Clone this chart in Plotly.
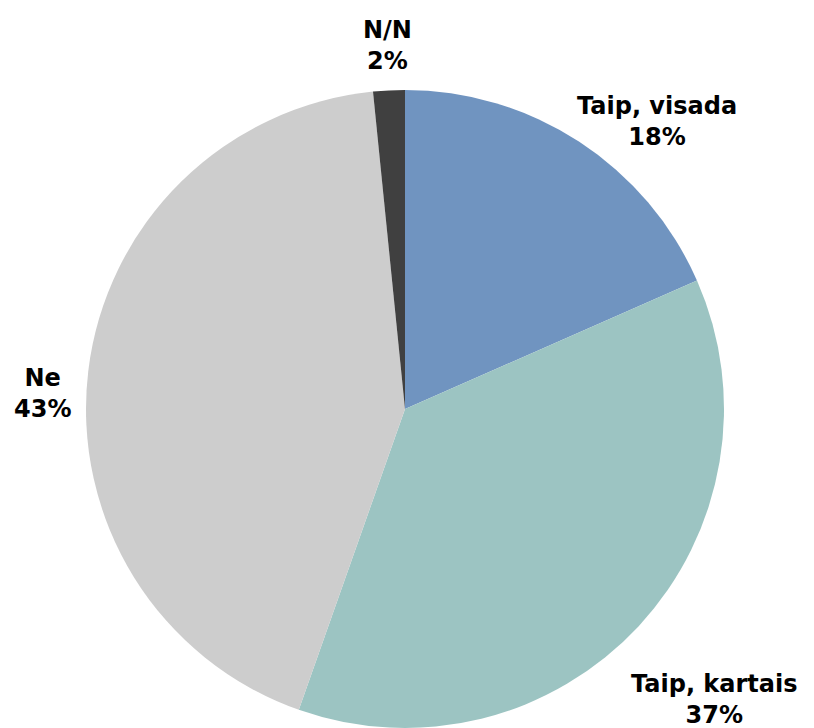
import plotly.graph_objects as go

labels = ['Taip, visada', 'Taip, kartais', 'Ne', 'N/N']
values = [18.4, 37.0, 43.0, 1.6]
colors = ['#7094c0', '#9cc4c2', '#cdcdcd', '#404040']

# label spots around the pie (paper coords)
lab_x = [0.894, 0.983, -0.067, 0.473]
lab_y = [0.950, 0.044, 0.525, 1.070]

fig = go.Figure(go.Pie(
    labels=labels,
    values=values,
    sort=False,
    direction='clockwise',
    rotation=0,
    marker=dict(colors=colors, line=dict(width=0)),
    textinfo='none',
    hoverinfo='label+percent',
    showlegend=False,
))

total = sum(values)
for lab, v, x, y in zip(labels, values, lab_x, lab_y):
    fig.add_annotation(
        x=x, y=y, xref='paper', yref='paper',
        xanchor='center', yanchor='middle',
        text=f'<b>{lab}<br>{round(v / total * 100)}%</b>',
        showarrow=False, align='center',
        font=dict(family='DejaVu Sans', size=24, color='black'),
    )

# page body adds 8px, so margins are shifted back by 8
fig.update_layout(
    width=814, height=728,
    margin=dict(l=77, r=97, t=82, b=8),
    paper_bgcolor='white',
    plot_bgcolor='white',
)
fig.write_html('out.html')
